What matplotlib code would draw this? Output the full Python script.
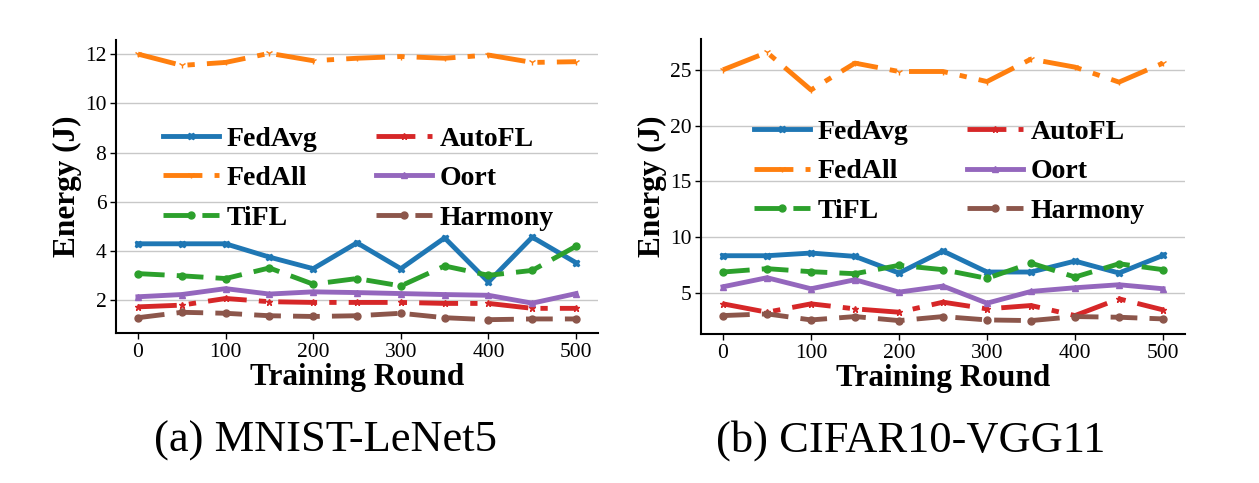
import matplotlib
matplotlib.use('Agg')
import matplotlib.pyplot as plt

plt.rcParams['font.family'] = ['Liberation Serif', 'DejaVu Serif']

# ----------- data -----------
rounds = [0, 50, 100, 150, 200, 250, 300, 350, 400, 450, 500]
methods = ['FedAvg', 'FedAll', 'TiFL', 'AutoFL', 'Oort', 'Harmony']

mnist_fedavg = [4.30, 4.30, 4.30, 3.76, 3.29, 4.34, 3.29, 4.54, 2.75, 4.57, 3.53]
mnist_fedall = [12.00, 11.54, 11.66, 12.03, 11.73, 11.83, 11.90, 11.83, 11.96, 11.66, 11.69]
mnist_tifl = [3.09, 3.00, 2.89, 3.32, 2.66, 2.89, 2.59, 3.40, 3.02, 3.22, 4.20]
mnist_autofl = [1.74, 1.81, 2.08, 1.95, 1.92, 1.92, 1.92, 1.88, 1.88, 1.68, 1.68]
mnist_oort = [2.15, 2.24, 2.48, 2.26, 2.35, 2.32, 2.28, 2.24, 2.21, 1.89, 2.28]
mnist_harmony = [1.30, 1.52, 1.48, 1.38, 1.35, 1.38, 1.48, 1.30, 1.22, 1.25, 1.25]

cifar_fedavg = [8.35, 8.35, 8.59, 8.29, 6.80, 8.77, 6.89, 6.89, 7.87, 6.80, 8.38]
cifar_fedall = [25.00, 26.56, 23.20, 25.60, 24.85, 24.85, 23.95, 25.96, 25.24, 23.90, 25.60]
cifar_tifl = [6.89, 7.19, 6.92, 6.74, 7.49, 7.10, 6.32, 7.69, 6.44, 7.63, 7.10]
cifar_autofl = [4.04, 3.29, 4.04, 3.59, 3.29, 4.19, 3.59, 3.89, 2.99, 4.49, 3.50]
cifar_oort = [5.57, 6.38, 5.39, 6.20, 5.09, 5.63, 4.10, 5.15, 5.48, 5.75, 5.39]
cifar_harmony = [2.99, 3.14, 2.60, 2.90, 2.54, 2.90, 2.60, 2.54, 2.90, 2.84, 2.69]

captions = ['(a) MNIST-LeNet5', '(b) CIFAR10-VGG11']

# ----------- styles -----------
DASH = (0, (5.5, 2.5))
DASHDOT = (0, (8, 2.5, 1.5, 2.5))
styles = {
    'FedAvg':  dict(color='#1f77b4', linestyle='-', marker='X'),
    'FedAll':  dict(color='#ff7f0e', linestyle=DASHDOT, marker='1'),
    'TiFL':    dict(color='#2ca02c', linestyle=DASH, marker='o'),
    'AutoFL':  dict(color='#d62728', linestyle=DASHDOT, marker='*'),
    'Oort':    dict(color='#9467bd', linestyle='-', marker='^'),
    'Harmony': dict(color='#8c564b', linestyle=DASH, marker='o'),
}


def draw_panel(ax, series, leg_anchor):
    for name, vals in zip(methods, series):
        ax.plot(rounds, vals, linewidth=3.5, markersize=5, label=name, **styles[name])
    ax.set_xticks([0, 100, 200, 300, 400, 500])
    ax.grid(True, axis='y', color='#c8c8c8', linewidth=1.0)
    ax.set_axisbelow(True)
    for side in ('top', 'right'):
        ax.spines[side].set_visible(False)
    for side in ('left', 'bottom'):
        ax.spines[side].set_linewidth(1.5)
        ax.spines[side].set_color('black')
    ax.tick_params(labelsize=15.5, length=4, width=1, pad=3, colors='black')
    ax.set_xlabel('Training Round', fontsize=22.5, fontweight='bold', labelpad=1)
    ax.set_ylabel('Energy (J)', fontsize=22.5, fontweight='bold', labelpad=2)
    ax.legend(ncol=2, loc='upper left', bbox_to_anchor=leg_anchor, frameon=False,
              prop={'size': 20, 'weight': 'bold'}, handlelength=2.0,
              handletextpad=0.3, columnspacing=2.1, labelspacing=0.5,
              borderpad=0, borderaxespad=0)


fig = plt.figure(figsize=(12.59, 4.83), dpi=100)
ax1 = fig.add_axes([116 / 1259, 1 - 333 / 483, 482 / 1259, 293 / 483])
ax2 = fig.add_axes([701 / 1259, 1 - 334 / 483, 484 / 1259, 295 / 483])

draw_panel(ax1, [mnist_fedavg, mnist_fedall, mnist_tifl, mnist_autofl, mnist_oort, mnist_harmony],
           (0.0975, 0.705))
draw_panel(ax2, [cifar_fedavg, cifar_fedall, cifar_tifl, cifar_autofl, cifar_oort, cifar_harmony],
           (0.1095, 0.727))

fig.text(325 / 1259, 1 - 452 / 483, captions[0], ha='center', va='baseline', fontsize=32)
fig.text(911 / 1259, 1 - 452 / 483, captions[1], ha='center', va='baseline', fontsize=32)

fig.savefig('out.png', dpi=100, facecolor='white')
